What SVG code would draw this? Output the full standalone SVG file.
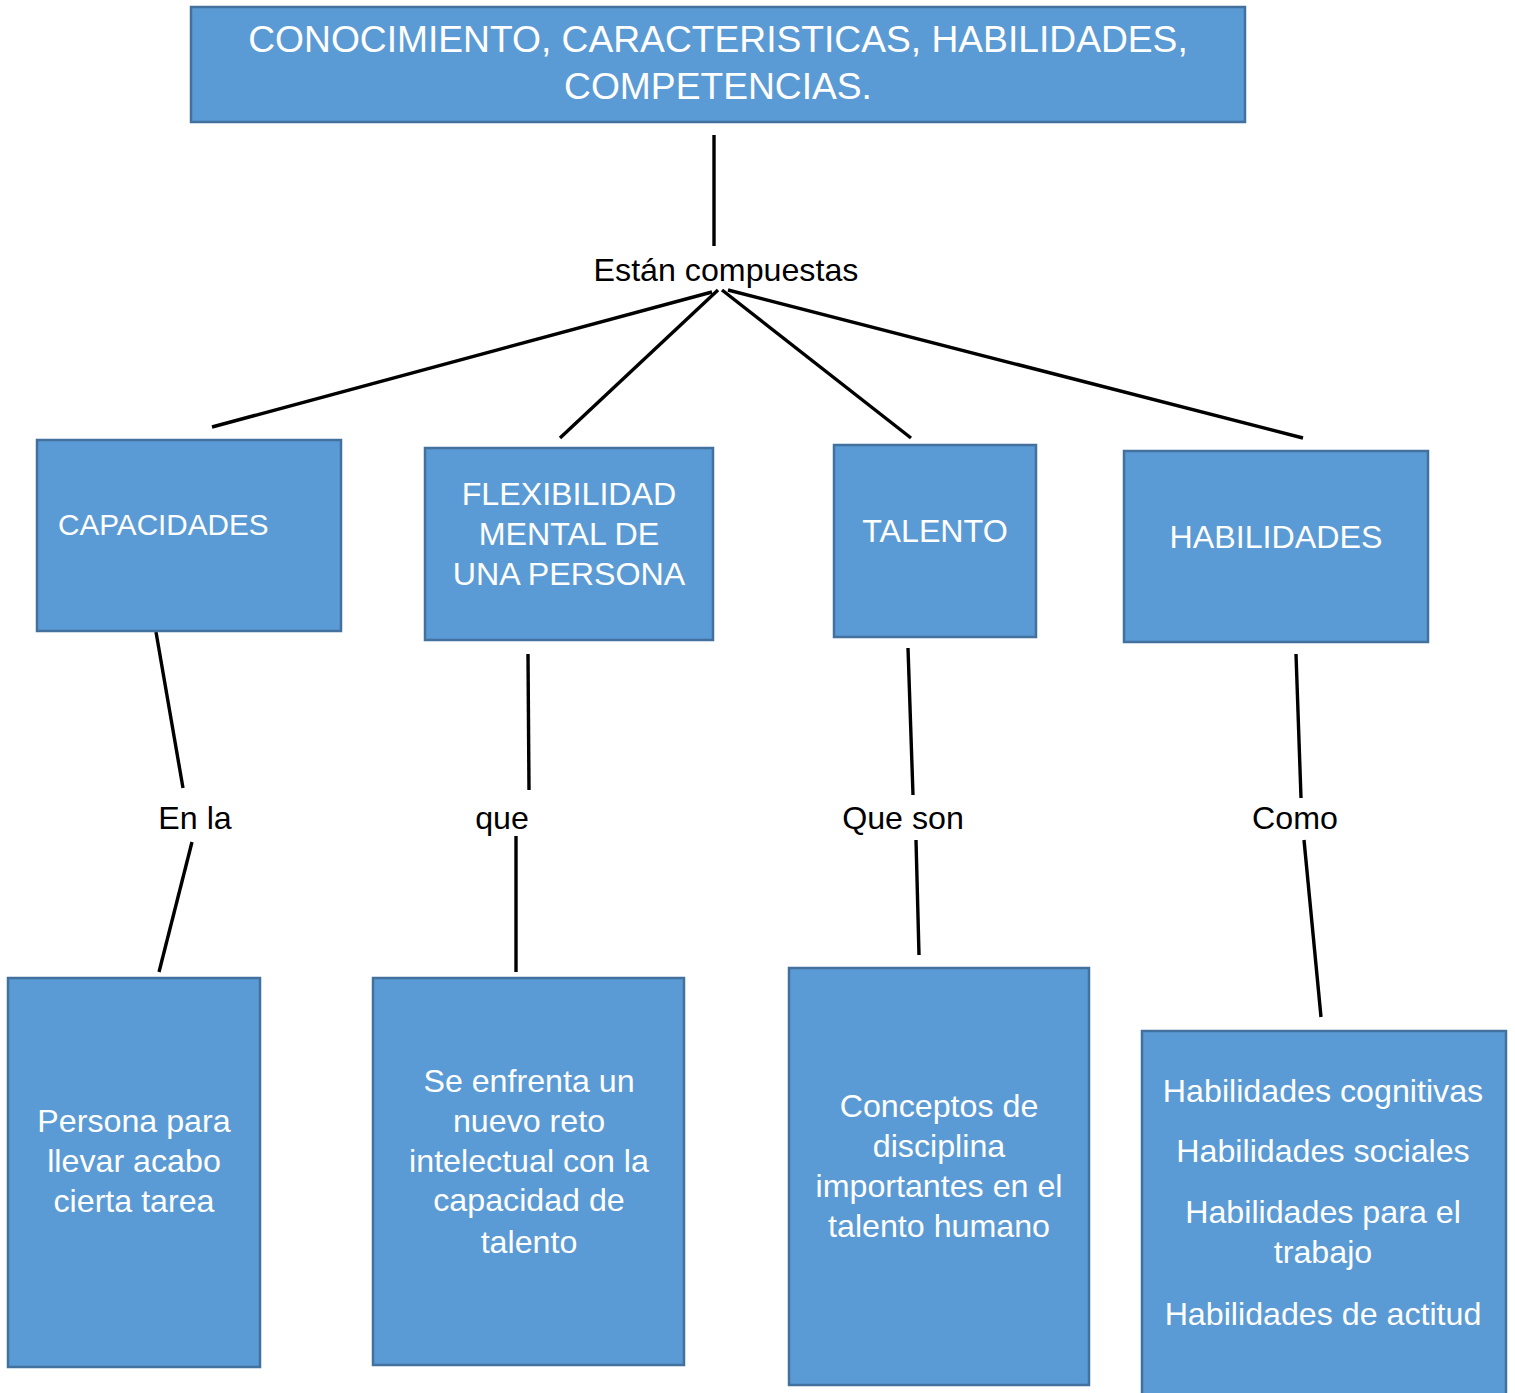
<svg xmlns="http://www.w3.org/2000/svg" width="1515" height="1393" viewBox="0 0 1515 1393">
<style>
.box{fill:#5B9BD5;stroke:#41719C;stroke-width:2.5}
.t{font-family:"Liberation Sans",Arial,sans-serif;fill:#fff;font-size:32.2px;text-anchor:middle}
.l{font-family:"Liberation Sans",Arial,sans-serif;fill:#000;font-size:32.2px;text-anchor:middle}
.c{stroke:#000;stroke-width:3.4;fill:none}
</style>
<rect width="1515" height="1393" fill="#fff"/>
<g id="connectors">
<line class="c" x1="714" y1="135" x2="714" y2="246"/>
<line class="c" x1="712" y1="292" x2="212" y2="427"/>
<line class="c" x1="718" y1="290" x2="560" y2="438"/>
<line class="c" x1="722" y1="290" x2="911" y2="438"/>
<line class="c" x1="728" y1="290" x2="1303" y2="438"/>
<line class="c" x1="156" y1="632" x2="183" y2="788"/>
<line class="c" x1="192" y1="842" x2="159" y2="972"/>
<line class="c" x1="528" y1="654" x2="529" y2="790"/>
<line class="c" x1="516" y1="836" x2="516" y2="972"/>
<line class="c" x1="908" y1="648" x2="913" y2="795"/>
<line class="c" x1="916" y1="840" x2="919" y2="955"/>
<line class="c" x1="1296" y1="654" x2="1301" y2="798"/>
<line class="c" x1="1304" y1="840" x2="1321" y2="1017"/>
<text class="l" x="726" y="281">Están compuestas</text>
<text class="l" x="195" y="829">En la</text>
<text class="l" x="502" y="829">que</text>
<text class="l" x="903" y="829">Que son</text>
<text class="l" x="1295" y="829">Como</text>
</g>
<g id="root">
<rect class="box" x="191" y="7" width="1054" height="115"/>
<text class="t" x="718" y="52" style="font-size:37.2px">CONOCIMIENTO, CARACTERISTICAS, HABILIDADES,</text>
<text class="t" x="718" y="99" style="font-size:37.2px">COMPETENCIAS.</text>
</g>
<g id="capacidades">
<rect class="box" x="37" y="440" width="304" height="191"/>
<text class="t" x="58" y="535" style="font-size:29.7px;text-anchor:start">CAPACIDADES</text>
</g>
<g id="flexibilidad">
<rect class="box" x="425" y="448" width="288" height="192"/>
<text class="t" x="569" y="505">FLEXIBILIDAD</text>
<text class="t" x="569" y="545">MENTAL DE</text>
<text class="t" x="569" y="585">UNA PERSONA</text>
</g>
<g id="talento">
<rect class="box" x="834" y="445" width="202" height="192"/>
<text class="t" x="935" y="542">TALENTO</text>
</g>
<g id="habilidades">
<rect class="box" x="1124" y="451" width="304" height="191"/>
<text class="t" x="1276" y="548">HABILIDADES</text>
</g>
<g id="persona">
<rect class="box" x="8" y="978" width="252" height="389"/>
<text class="t" x="134" y="1132">Persona para</text>
<text class="t" x="134" y="1172">llevar acabo</text>
<text class="t" x="134" y="1212">cierta tarea</text>
</g>
<g id="reto">
<rect class="box" x="373" y="978" width="311" height="387"/>
<text class="t" x="529" y="1092">Se enfrenta un</text>
<text class="t" x="529" y="1132">nuevo reto</text>
<text class="t" x="529" y="1172">intelectual con la</text>
<text class="t" x="529" y="1211">capacidad de</text>
<text class="t" x="529" y="1253">talento</text>
</g>
<g id="conceptos">
<rect class="box" x="789" y="968" width="300" height="417"/>
<text class="t" x="939" y="1117">Conceptos de</text>
<text class="t" x="939" y="1157">disciplina</text>
<text class="t" x="939" y="1197">importantes en el</text>
<text class="t" x="939" y="1237">talento humano</text>
</g>
<g id="tipos">
<rect class="box" x="1142" y="1031" width="364" height="380"/>
<text class="t" x="1323" y="1102">Habilidades cognitivas</text>
<text class="t" x="1323" y="1162">Habilidades sociales</text>
<text class="t" x="1323" y="1223">Habilidades para el</text>
<text class="t" x="1323" y="1263">trabajo</text>
<text class="t" x="1323" y="1325">Habilidades de actitud</text>
</g>
</svg>
